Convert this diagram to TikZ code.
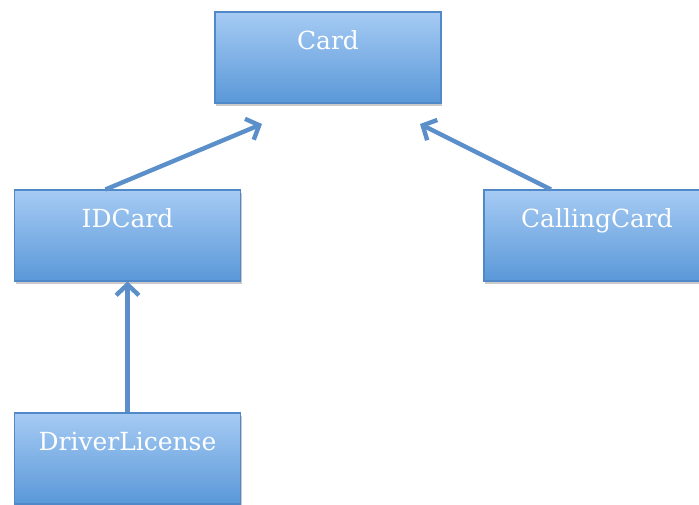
\documentclass[tikz,border=0pt]{standalone}
\usepackage{fontspec}
\setmainfont{DejaVu Serif}
\usetikzlibrary{arrows.meta,calc,shadows}
\definecolor{boxtop}{HTML}{A6CBF4}
\definecolor{boxbot}{HTML}{5A98D8}
\definecolor{boxline}{HTML}{5088C8}
\definecolor{arrowc}{HTML}{5B8FC9}
\tikzset{
  classbox/.style={rectangle, draw=boxline, line width=0.8pt,
    top color=boxtop, bottom color=boxbot,
    minimum width=169.5pt, inner xsep=0pt, inner ysep=0pt,
    text height=28pt, text depth=40.25pt,
    font=\fontsize{18.7}{20}\selectfont, text=white,
    drop shadow={shadow xshift=0.8pt, shadow yshift=-2pt, opacity=0.35, fill=black!60}},
  inherit/.style={draw=arrowc, line width=3.3pt,
    -{Straight Barb[length=8pt, width=17pt, line width=3.3pt]}}
}
\begin{document}
\begin{tikzpicture}[x=0.75pt,y=-0.75pt]
\useasboundingbox (0,0) rectangle (699,504);
\node[classbox] (Card) at (328,57.5) {Card};
\node[classbox] (IDCard) at (127.5,235.5) {IDCard};
\node[classbox] (CallingCard) at (597,235.5) {CallingCard};
\node[classbox] (DriverLicense) at (127.5,458.5) {DriverLicense};
\coordinate (a1) at (262,124);
\coordinate (a2) at (420,124);
\draw[inherit] ($(IDCard.north)+(-22,0)$) -- (a1);
\draw[inherit] ($(CallingCard.north)+(-46,0)$) -- (a2);
\draw[inherit] (DriverLicense.north) -- (IDCard.south);
\end{tikzpicture}
\end{document}
